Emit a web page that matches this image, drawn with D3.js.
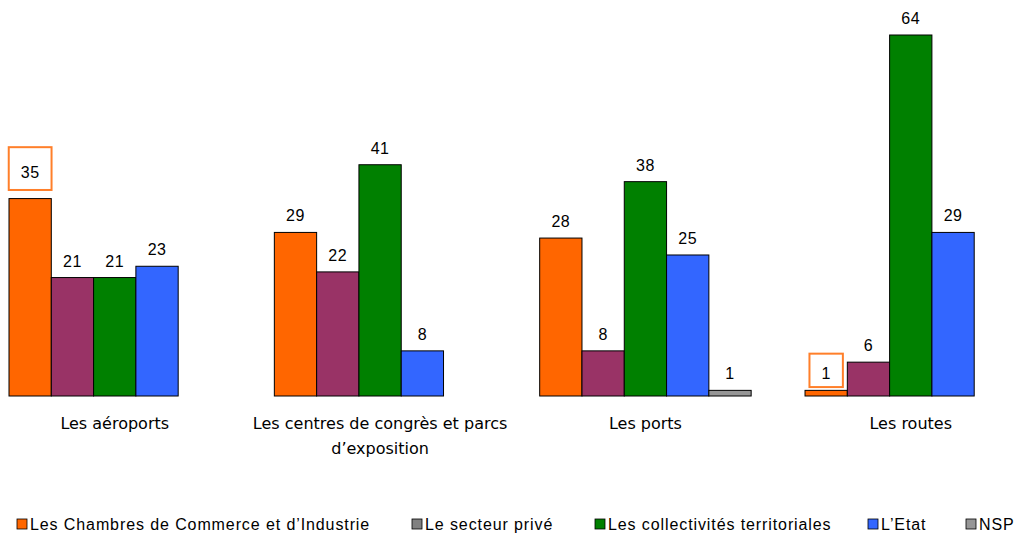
<!DOCTYPE html>
<html>
<head>
<meta charset="utf-8">
<script src="https://cdn.jsdelivr.net/npm/d3@7"></script>
<style>
  body { margin: 0; background: #fff; }
</style>
</head>
<body>
<svg id="chart" width="1016" height="535"></svg>
<script>
// categories and series
const categories = [
  ['Les aéroports'],
  ['Les centres de congrès et parcs', 'd\u2019exposition'],
  ['Les ports'],
  ['Les routes']
]
const seriesNames = [
  'Les Chambres de Commerce et d\u2019Industrie',
  'Le secteur privé',
  'Les collectivités territoriales',
  'L\u2019Etat',
  'NSP'
]
const cci = [35, 29, 28, 1]
const prive = [21, 22, 8, 6]
const collectivites = [21, 41, 38, 64]
const etat = [23, 8, 25, 29]
const nsp = [null, null, 1, null]
// labels boxed in orange in the original (series index, category index)
const highlighted = [[0, 0], [0, 3]]

const barColors = ['#FF6600', '#993366', '#008000', '#3366FF', '#969696']
const legendColors = ['#FF6600', '#808080', '#008000', '#3366FF', '#969696']

const values = [cci, prive, collectivites, etat, nsp]

const svg = d3.select('#chart')

const x0 = d3.scaleBand()
  .domain(d3.range(categories.length))
  .range([9, 1016.5])
  .paddingInner(0.203)
  .paddingOuter(0)

const x1 = d3.scaleBand()
  .domain(d3.range(seriesNames.length))
  .range([0, x0.bandwidth()])

const y = d3.scaleLinear().domain([0, 64]).range([396, 35])

// bars
const groups = svg.selectAll('.grp')
  .data(categories)
  .enter()
  .append('g')
  .attr('class', 'grp')
  .attr('transform', (d, i) => `translate(${x0(i)},0)`)

groups.each(function (c, ci) {
  const g = d3.select(this)
  values.forEach((vals, si) => {
    const v = vals[ci]
    if (v == null) return
    g.append('rect')
      .attr('x', x1(si))
      .attr('y', y(v))
      .attr('width', x1.bandwidth())
      .attr('height', y(0) - y(v))
      .attr('fill', barColors[si])
      .attr('stroke', '#000')
      .attr('stroke-width', 1)

    const isHi = highlighted.some(h => h[0] === si && h[1] === ci)
    const base = isHi && v > 5 ? y(v) - 21 : y(v) - 11
    const cx = x1(si) + x1.bandwidth() / 2
    const box = isHi ? g.append('rect') : null
    const lbl = g.append('text')
      .attr('x', cx)
      .attr('y', base)
      .attr('text-anchor', 'middle')
      .style('font-family', 'Liberation Sans, Arial, sans-serif')
      .style('font-size', '16px')
      .style('letter-spacing', '0.5px')
      .style('fill', '#000')
      .text(v)
    if (box) {
      const w = lbl.node().getComputedTextLength() + 24
      box.attr('x', cx - w / 2)
        .attr('y', base - 9 - w / 2)
        .attr('width', w)
        .attr('height', w)
        .attr('fill', '#fff')
        .attr('stroke', '#FF7F2A')
        .attr('stroke-width', 2)
    }
  })

  // category label
  const t = g.append('text')
    .attr('text-anchor', 'middle')
    .style('font-family', 'DejaVu Sans, sans-serif')
    .style('font-size', '16px')
    .style('fill', '#000')
  c.forEach((line, li) => {
    t.append('tspan')
      .attr('x', x0.bandwidth() / 2)
      .attr('y', 429 + li * 25)
      .text(line)
  })
})

// legend
const legendX = [17, 412, 595, 868, 966]
const legend = svg.selectAll('.leg')
  .data(seriesNames)
  .enter()
  .append('g')
  .attr('class', 'leg')
  .attr('transform', (d, i) => `translate(${legendX[i]},524)`)

legend.append('rect')
  .attr('x', 0)
  .attr('y', -5)
  .attr('width', 10)
  .attr('height', 10)
  .attr('fill', (d, i) => legendColors[i])
  .attr('stroke', '#000')
  .attr('stroke-width', 0.8)

legend.append('text')
  .attr('x', 13)
  .attr('y', 6)
  .style('font-family', 'Liberation Sans, Arial, sans-serif')
  .style('font-size', '16px')
  .style('letter-spacing', '0.9px')
  .style('fill', '#000')
  .text(d => d)
</script>
</body>
</html>
